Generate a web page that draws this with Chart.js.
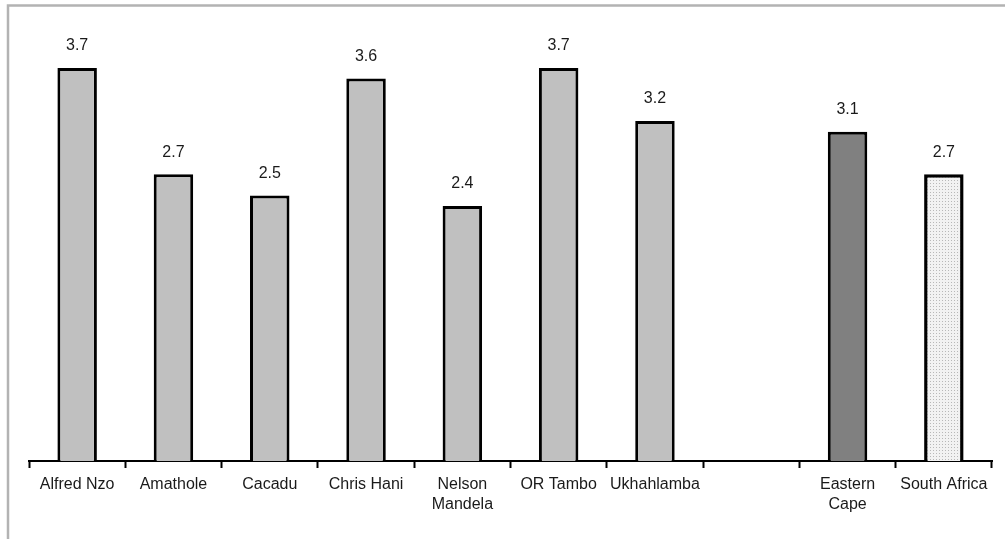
<!DOCTYPE html>
<html>
<head>
<meta charset="utf-8">
<script src="https://cdn.jsdelivr.net/npm/chart.js@4"></script>
<style>
  html, body { margin: 0; padding: 0; background: #fff; }
  #wrap { width: 1005px; height: 539px; position: relative; }
</style>
</head>
<body>
<div id="wrap"><canvas id="c" width="1005" height="539"></canvas></div>
<script>
const categories = [
  'Alfred Nzo', 'Amathole', 'Cacadu', 'Chris Hani', ['Nelson', 'Mandela'],
  'OR Tambo', 'Ukhahlamba', '', ['Eastern', 'Cape'], 'South Africa'
];
const values = [3.7, 2.7, 2.5, 3.6, 2.4, 3.7, 3.2, null, 3.1, 2.7];

function makeDots() {
  const p = document.createElement('canvas');
  p.width = 3; p.height = 3;
  const g = p.getContext('2d');
  g.fillStyle = '#f2f2f2';
  g.fillRect(0, 0, 3, 3);
  g.fillStyle = '#b8b8b8';
  g.fillRect(0, 0, 1, 1);
  return g.createPattern(p, 'repeat');
}
const ctx = document.getElementById('c').getContext('2d');
const dots = makeDots();
const bg = values.map((v, i) => i === 8 ? '#808080' : (i === 9 ? dots : '#c0c0c0'));
const bw = values.map((v, i) => i === 9 ? 3.5 : 3);

const framePlugin = {
  id: 'frame',
  beforeDraw(chart) {
    const c = chart.ctx;
    c.save();
    c.fillStyle = '#fff';
    c.fillRect(0, 0, chart.width, chart.height);
    c.strokeStyle = '#b3b3b3';
    c.lineWidth = 2.5;
    c.beginPath();
    c.moveTo(8, 539);
    c.lineTo(8, 5.5);
    c.lineTo(1005, 5.5);
    c.stroke();
    c.restore();
  }
};
const labelPlugin = {
  id: 'vlabels',
  afterDatasetsDraw(chart) {
    const c = chart.ctx;
    const meta = chart.getDatasetMeta(0);
    c.save();
    c.font = '16px "Liberation Sans", Arial, sans-serif';
    c.fillStyle = '#1a1a1a';
    c.textAlign = 'center';
    c.textBaseline = 'middle';
    meta.data.forEach((bar, i) => {
      if (values[i] == null) return;
      c.fillText(values[i].toFixed(1), bar.x, bar.y - 22);
    });
    c.restore();
  }
};

new Chart(ctx, {
  type: 'bar',
  data: {
    labels: categories,
    datasets: [{
      data: values,
      backgroundColor: bg,
      borderColor: '#000',
      borderWidth: bw,
      borderSkipped: 'bottom',
      categoryPercentage: 1,
      barPercentage: 0.41
    }]
  },
  options: {
    responsive: false,
    animation: false,
    events: [],
    layout: { padding: { left: 29, right: 13, top: 36, bottom: 0 } },
    plugins: { legend: { display: false }, tooltip: { enabled: false } },
    scales: {
      y: { display: false, min: 0, max: 4 },
      x: {
        afterFit(s) { s.height = 78; },
        grid: {
          offset: true,
          drawOnChartArea: false,
          drawTicks: true,
          tickLength: 7,
          tickWidth: 2,
          tickColor: '#000'
        },
        border: { display: true, color: '#000', width: 2 },
        ticks: {
          color: '#1a1a1a',
          padding: 6,
          maxRotation: 0,
          autoSkip: false,
          font: { family: '"Liberation Sans", Arial, sans-serif', size: 16, lineHeight: 1.27 }
        }
      }
    }
  },
  plugins: [framePlugin, labelPlugin]
});
</script>
</body>
</html>
